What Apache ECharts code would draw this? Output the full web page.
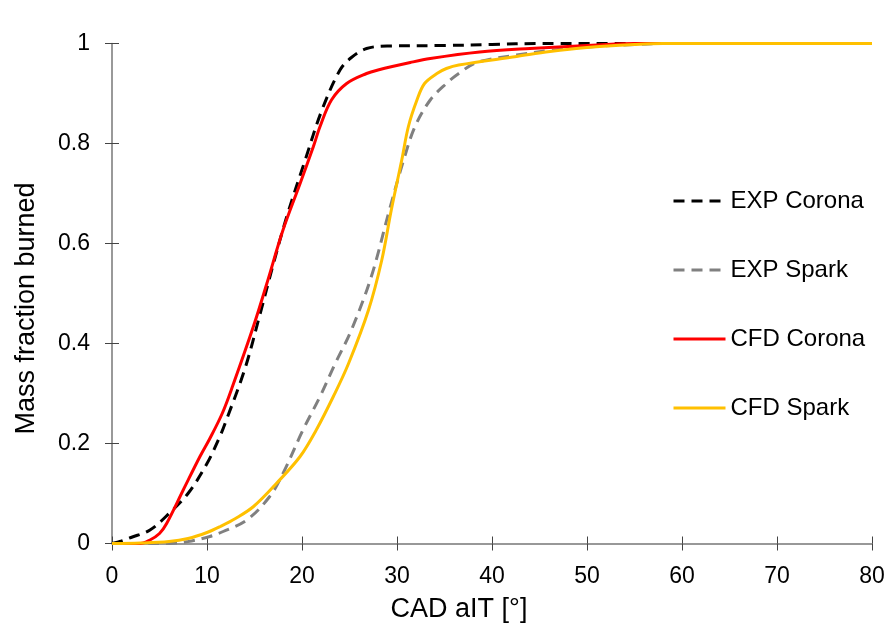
<!DOCTYPE html>
<html>
<head>
<meta charset="utf-8">
<script src="https://cdn.jsdelivr.net/npm/echarts@6/dist/echarts.min.js"></script>
<style>
  html, body { margin: 0; padding: 0; background: #fff; }
  #chart { width: 891px; height: 631px; }
</style>
</head>
<body>
<div id="chart"></div>
<script>
// values, [CAD, mass fraction]
const expCorona = [[0,0],[1,0.005],[2,0.012],[4,0.027],[6,0.06],[8,0.1],[10,0.16],[11.4,0.216],[12,0.245],[14,0.35],[15.6,0.46],[17,0.56],[18.4,0.654],[20.3,0.765],[22.1,0.867],[24,0.947],[25.2,0.972],[26.8,0.99],[29,0.995],[35,0.996],[40,0.998],[45,1],[80,1]]
const expSpark = [[0,0],[3,0],[6,0],[8,0.004],[10.3,0.014],[11.7,0.024],[14.2,0.047],[16.6,0.094],[18,0.14],[20.1,0.227],[21.9,0.294],[23.5,0.36],[25.2,0.427],[27.3,0.534],[29.2,0.667],[30.7,0.767],[31.9,0.834],[33.5,0.887],[35.2,0.92],[36.5,0.94],[38.4,0.962],[42.6,0.977],[46.1,0.986],[50,0.993],[55,0.998],[58,1],[80,1]]
const cfdCorona = [[0,0],[3,0],[4,0.007],[5,0.02],[5.75,0.04],[7.5,0.107],[9.26,0.174],[10.3,0.21],[11.6,0.26],[12.7,0.315],[14.9,0.435],[16.3,0.52],[18,0.627],[19.8,0.72],[21.2,0.794],[21.9,0.834],[23.1,0.887],[24.7,0.92],[26.8,0.94],[28,0.947],[31.4,0.962],[33.5,0.97],[38.7,0.983],[44,0.99],[51,0.997],[55,1],[80,1]]
const cfdSpark = [[0,0],[3,0.001],[6,0.004],[8,0.01],[10,0.022],[11.4,0.034],[13,0.05],[14.9,0.074],[17.3,0.12],[19.8,0.174],[21.5,0.227],[23.3,0.294],[24.9,0.36],[27,0.467],[28.4,0.567],[29.4,0.667],[30.5,0.767],[31.2,0.834],[32.1,0.887],[32.9,0.92],[34.2,0.94],[35.2,0.95],[36.5,0.957],[42.6,0.974],[46.1,0.984],[50,0.992],[55,0.998],[58,1],[80,1]]

const seriesNames = ['EXP Corona', 'EXP Spark', 'CFD Corona', 'CFD Spark']
const xTicks = [0, 80, 10]   // min, max, interval
const yTicks = [0, 1, 0.2]

const font = 'Liberation Sans, Arial, sans-serif'
const axisFont = { fontFamily: font, fontSize: 23, color: '#000' }

const chart = echarts.init(document.getElementById('chart'))

const lineSeries = (name, data, color, dashed) => ({
    name: name,
    type: 'line',
    data: data,
    symbol: 'none',
    smooth: 0.35,
    color: color,
    lineStyle: { width: 3, color: color, type: dashed ? [11, 7] : 'solid' }
})

chart.setOption({
    animation: false,
    grid: { left: 112, right: 19, top: 43.5, bottom: 87.5 },
    legend: {
        orient: 'vertical',
        left: 667,
        top: 184,
        itemWidth: 52,
        itemHeight: 14,
        itemGap: 45,
        itemStyle: { opacity: 0 },   // line only, no marker
        lineStyle: { width: 3 },
        textStyle: { fontFamily: font, fontSize: 24, color: '#000' },
        data: seriesNames
    },
    xAxis: [{
        type: 'value',
        min: xTicks[0], max: xTicks[1], interval: xTicks[2],
        name: 'CAD aIT [°]',
        nameLocation: 'middle',
        nameGap: 53,
        nameTextStyle: { fontFamily: font, fontSize: 27, color: '#000', padding: [0, 66, 0, 0] },
        axisLine: { lineStyle: { color: '#777', width: 1.5 } },
        axisTick: { length: 7, lineStyle: { color: '#444' } },
        axisLabel: Object.assign({ margin: 22 }, axisFont),
        splitLine: { show: false }
    }, {
        // inner half of the crossing ticks
        type: 'value', position: 'bottom',
        min: xTicks[0], max: xTicks[1], interval: xTicks[2],
        axisLine: { show: false },
        axisTick: { inside: true, length: 7, lineStyle: { color: '#444' } },
        axisLabel: { show: false },
        splitLine: { show: false }
    }],
    yAxis: [{
        type: 'value',
        min: yTicks[0], max: yTicks[1], interval: yTicks[2],
        name: 'Mass fraction burned',
        nameLocation: 'middle',
        nameGap: 72,
        nameTextStyle: { fontFamily: font, fontSize: 27, color: '#000', padding: [0, 30, 0, 0] },
        axisLine: { show: true, lineStyle: { color: '#777', width: 1.5 } },
        axisTick: { show: true, length: 7, lineStyle: { color: '#444' } },
        axisLabel: Object.assign({ margin: 22 }, axisFont),
        splitLine: { show: false }
    }, {
        type: 'value', position: 'left',
        min: yTicks[0], max: yTicks[1], interval: yTicks[2],
        axisLine: { show: false },
        axisTick: { show: true, inside: true, length: 7, lineStyle: { color: '#444' } },
        axisLabel: { show: false },
        splitLine: { show: false }
    }],
    series: [
        lineSeries(seriesNames[0], expCorona, '#000000', true),
        lineSeries(seriesNames[1], expSpark, '#808080', true),
        lineSeries(seriesNames[2], cfdCorona, '#ff0000', false),
        lineSeries(seriesNames[3], cfdSpark, '#ffc000', false)
    ]
})
</script>
</body>
</html>
